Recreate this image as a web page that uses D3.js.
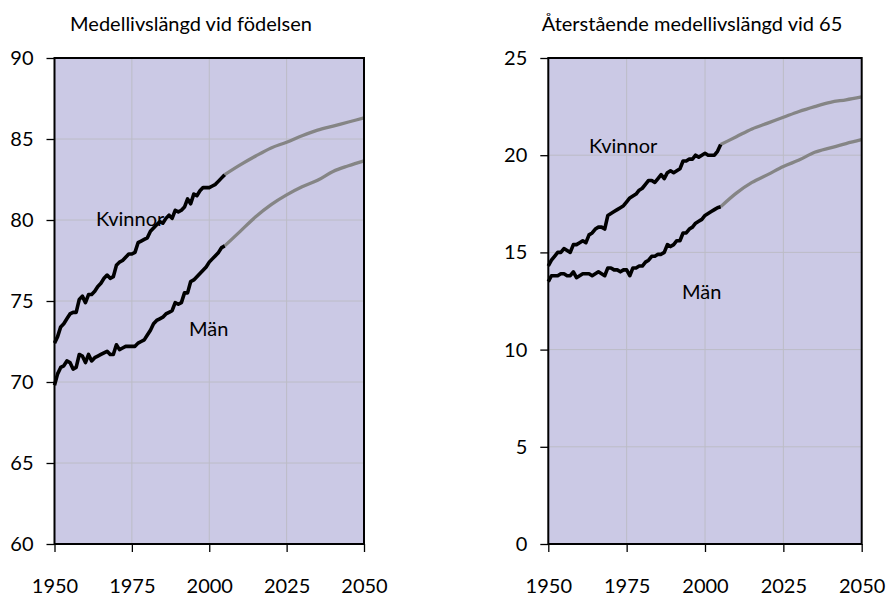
<!DOCTYPE html>
<html lang="sv">
<head>
<meta charset="utf-8">
<title>Medellivslängd</title>
<script src="https://d3js.org/d3.v7.min.js"></script>
<style>
  body { margin: 0; background: #fff; }
  text { font-family: Lato, "Open Sans", sans-serif; fill: #000; }
</style>
</head>
<body>
<script>
// Observed years and projection years
var histYears = d3.range(1950, 2006);
var projYears = [2005, 2010, 2015, 2020, 2025, 2030, 2035, 2040, 2045, 2050];

// Medellivslängd vid födelsen
var kvinnorBirth = [72.4, 72.8, 73.4, 73.6, 73.9, 74.2, 74.3, 74.3, 75.1, 75.3,
  74.9, 75.4, 75.4, 75.6, 75.9, 76.1, 76.4, 76.6, 76.4, 76.5,
  77.2, 77.4, 77.5, 77.7, 77.9, 77.9, 78.0, 78.6, 78.7, 78.8,
  78.9, 79.3, 79.5, 79.7, 79.9, 79.8, 80.1, 80.3, 80.1, 80.6,
  80.5, 80.6, 80.8, 81.3, 81.0, 81.6, 81.5, 81.8, 82.0, 82.0,
  82.0, 82.1, 82.2, 82.4, 82.6, 82.8];
var manBirth = [69.8, 70.5, 70.9, 71.0, 71.3, 71.2, 70.8, 70.9, 71.7, 71.6,
  71.2, 71.7, 71.3, 71.5, 71.6, 71.7, 71.8, 71.9, 71.7, 71.7,
  72.3, 72.0, 72.1, 72.2, 72.2, 72.2, 72.2, 72.4, 72.5, 72.6,
  72.9, 73.2, 73.6, 73.8, 73.9, 74.0, 74.2, 74.3, 74.4, 74.9,
  74.8, 74.9, 75.5, 75.5, 76.2, 76.3, 76.5, 76.7, 76.9, 77.1,
  77.4, 77.6, 77.8, 78.0, 78.3, 78.4];
var kvinnorBirthProj = [82.8, 83.4, 83.95, 84.45, 84.8, 85.2, 85.55, 85.8, 86.05, 86.3];
var manBirthProj = [78.4, 79.3, 80.2, 80.95, 81.55, 82.05, 82.45, 83.0, 83.35, 83.65];

// Återstående medellivslängd vid 65
var kvinnor65 = [14.3, 14.6, 14.8, 15.0, 15.0, 15.2, 15.1, 15.0, 15.4, 15.4,
  15.5, 15.6, 15.5, 15.9, 16.0, 16.2, 16.3, 16.3, 16.2, 16.9,
  17.0, 17.1, 17.2, 17.3, 17.4, 17.6, 17.8, 17.9, 18.0, 18.2,
  18.3, 18.5, 18.7, 18.7, 18.6, 18.8, 19.0, 18.8, 19.1, 19.2,
  19.1, 19.2, 19.3, 19.7, 19.7, 19.8, 19.8, 20.0, 19.9, 20.0,
  20.1, 20.0, 20.0, 20.0, 20.2, 20.55];
var man65 = [13.5, 13.8, 13.8, 13.8, 13.9, 13.9, 13.8, 13.8, 14.0, 13.7,
  13.8, 13.9, 13.9, 13.9, 13.8, 13.9, 14.0, 13.9, 13.8, 14.2,
  14.2, 14.1, 14.1, 14.0, 14.1, 14.1, 13.8, 14.2, 14.2, 14.3,
  14.3, 14.5, 14.6, 14.8, 14.8, 14.9, 14.9, 15.0, 15.4, 15.3,
  15.4, 15.6, 15.6, 16.0, 16.0, 16.2, 16.3, 16.5, 16.6, 16.7,
  16.9, 17.0, 17.1, 17.2, 17.3, 17.35];
var kvinnor65Proj = [20.55, 20.95, 21.35, 21.65, 21.95, 22.25, 22.5, 22.72, 22.85, 23.0];
var man65Proj = [17.35, 18.05, 18.6, 19.0, 19.42, 19.75, 20.15, 20.38, 20.6, 20.8];

var xTicks = [1950, 1975, 2000, 2025, 2050];
var birthTicks = [60, 65, 70, 75, 80, 85, 90];
var age65Ticks = [0, 5, 10, 15, 20, 25];

var width = 887, height = 596;
var svg = d3.select("body").append("svg")
    .attr("width", width)
    .attr("height", height);

function panel(p) {
    var x = d3.scaleLinear().domain([1950, 2050]).range([p.left, p.right]);
    var y = d3.scaleLinear().domain(p.yDomain).range([544, 58]);
    var g = svg.append("g");

    g.append("rect")
        .attr("x", p.left).attr("y", 58)
        .attr("width", p.right - p.left).attr("height", 544 - 58)
        .attr("fill", "#cbc9e5");

    // grid
    g.append("g").selectAll("line")
        .data(p.yTicks.slice(1, -1)).enter().append("line")
        .attr("x1", p.left).attr("x2", p.right)
        .attr("y1", function(d) { return y(d); }).attr("y2", function(d) { return y(d); })
        .attr("stroke", "#bcbcc6").attr("stroke-width", 1);
    g.append("g").selectAll("line")
        .data(xTicks.slice(1, -1)).enter().append("line")
        .attr("y1", 58).attr("y2", 544)
        .attr("x1", function(d) { return x(d); }).attr("x2", function(d) { return x(d); })
        .attr("stroke", "#bcbcc6").attr("stroke-width", 1);

    var line = d3.line()
        .x(function(d) { return x(d[0]); })
        .y(function(d) { return y(d[1]); });
    var smooth = d3.line()
        .x(function(d) { return x(d[0]); })
        .y(function(d) { return y(d[1]); })
        .curve(d3.curveMonotoneX);

    [p.manProj, p.kvinnorProj].forEach(function(s) {
        g.append("path")
            .datum(d3.zip(projYears, s))
            .attr("d", smooth)
            .attr("fill", "none").attr("stroke", "#858585")
            .attr("stroke-width", 3.3).attr("stroke-linejoin", "round");
    });
    [p.man, p.kvinnor].forEach(function(s) {
        g.append("path")
            .datum(d3.zip(histYears, s))
            .attr("d", line)
            .attr("fill", "none").attr("stroke", "#000")
            .attr("stroke-width", 3.6).attr("stroke-linejoin", "round");
    });

    // frame
    g.append("rect")
        .attr("x", p.left).attr("y", 58)
        .attr("width", p.right - p.left).attr("height", 544 - 58)
        .attr("fill", "none").attr("stroke", "#000").attr("stroke-width", 2);

    var xAxis = g.append("g")
        .attr("transform", "translate(0,544)")
        .call(d3.axisBottom(x).tickValues(xTicks).tickFormat(d3.format("d"))
            .tickSize(8).tickSizeOuter(0).tickPadding(27));
    var yAxis = g.append("g")
        .attr("transform", "translate(" + p.left + ",0)")
        .call(d3.axisLeft(y).tickValues(p.yTicks)
            .tickSize(8).tickSizeOuter(0).tickPadding(13));
    [xAxis, yAxis].forEach(function(a) {
        a.select(".domain").remove();
        a.selectAll("line").attr("stroke", "#000").attr("stroke-width", 1.3);
        a.selectAll("text").style("font-size", "20px").attr("fill", "#000");
    });

    g.append("text")
        .attr("x", p.titleX).attr("y", 31)
        .attr("text-anchor", "middle")
        .style("font-size", "20px")
        .text(p.title);

    p.labels.forEach(function(l) {
        g.append("text")
            .attr("x", l.x).attr("y", l.y)
            .style("font-size", "20px")
            .text(l.text);
    });
}

panel({
    left: 54.5, right: 364,
    yDomain: [60, 90], yTicks: birthTicks,
    kvinnor: kvinnorBirth, man: manBirth,
    kvinnorProj: kvinnorBirthProj, manProj: manBirthProj,
    title: "Medellivslängd vid födelsen", titleX: 191,
    labels: [{text: "Kvinnor", x: 96, y: 226}, {text: "Män", x: 189, y: 336}]
});

panel({
    left: 548.3, right: 861.7,
    yDomain: [0, 25], yTicks: age65Ticks,
    kvinnor: kvinnor65, man: man65,
    kvinnorProj: kvinnor65Proj, manProj: man65Proj,
    title: "Återstående medellivslängd vid 65", titleX: 692,
    labels: [{text: "Kvinnor", x: 589, y: 153}, {text: "Män", x: 682, y: 299}]
});
</script>
</body>
</html>
